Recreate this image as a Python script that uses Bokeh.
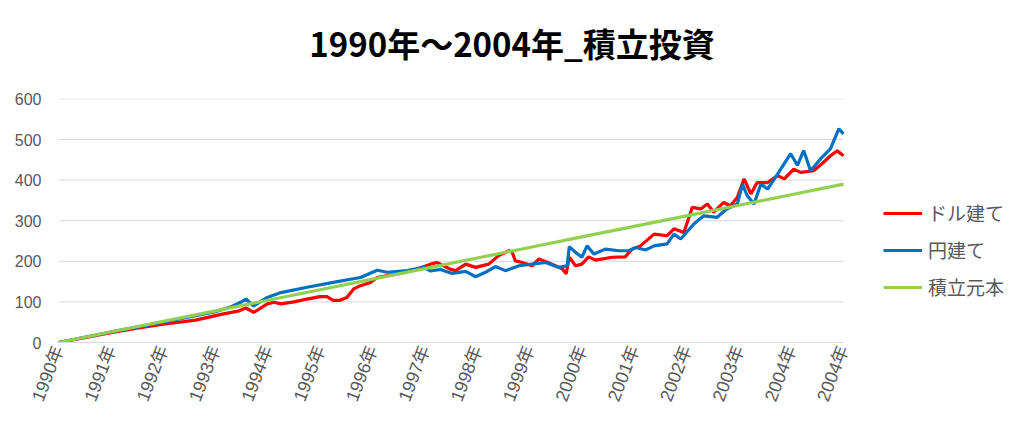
from bokeh.plotting import figure
from bokeh.models import (Range1d, FixedTicker, Legend, LegendItem, Div)
from bokeh.layouts import column
from bokeh.embed import file_html
from bokeh.resources import INLINE

# ---- data (decimal years) ----
years = list(range(1990, 2006))
year_labels = ["1990年", "1991年", "1992年", "1993年", "1994年", "1995年", "1996年",
               "1997年", "1998年", "1999年", "2000年", "2001年", "2002年", "2003年",
               "2004年", "2004年"]
y_ticks = [0, 100, 200, 300, 400, 500, 600]

t_dollar = [0, 0.5, 1.0, 1.5, 2.0, 2.62, 3.13, 3.45, 3.58, 3.73, 3.99, 4.12, 4.25, 4.5,
            4.75, 5.0, 5.13, 5.25, 5.38, 5.51, 5.64, 5.77, 5.96, 6.09, 6.34, 6.6, 6.85,
            7.11, 7.23, 7.36, 7.49, 7.59, 7.78, 7.97, 8.22, 8.41, 8.61, 8.67, 8.73, 8.86,
            9.05, 9.18, 9.43, 9.63, 9.7, 9.76, 9.88, 10.0, 10.13, 10.26, 10.58, 10.83,
            10.96, 11.12, 11.38, 11.63, 11.76, 11.95, 12.11, 12.27, 12.4, 12.52, 12.71,
            12.84, 12.97, 13.1, 13.23, 13.35, 13.55, 13.74, 13.87, 14.05, 14.18, 14.43,
            14.62, 14.75, 14.88, 15.0]
dollar = [0, 12, 24, 35, 45, 55, 70, 78, 85, 74, 95, 99, 95, 100,
          107, 113, 113, 104, 104, 111, 132, 140, 148, 160, 166, 172, 181,
          193, 197, 189, 180, 177, 193, 185, 193, 214, 226, 222, 201, 197,
          189, 206, 193, 181, 169, 210, 189, 193, 211, 203, 210, 211,
          230, 238, 267, 263, 280, 271, 333, 329, 341, 321, 345,
          337, 357, 403, 366, 394, 394, 411, 403, 427, 419, 423,
          444, 460, 472, 460]

t_yen = [0, 0.5, 1.0, 1.5, 2.0, 2.5, 3.0, 3.3, 3.48, 3.58, 3.73, 3.99, 4.25, 4.75,
         5.25, 5.77, 6.09, 6.28, 6.66, 6.98, 7.11, 7.3, 7.52, 7.78, 7.97, 8.16, 8.35,
         8.54, 8.8, 9.05, 9.31, 9.56, 9.72, 9.76, 9.88, 10.0, 10.1, 10.23, 10.45, 10.71,
         10.9, 11.03, 11.22, 11.38, 11.63, 11.76, 11.89, 12.14, 12.33, 12.58, 12.77,
         12.97, 13.07, 13.16, 13.29, 13.42, 13.55, 13.74, 13.99, 14.12, 14.24, 14.37,
         14.56, 14.75, 14.91, 15.0]
yen = [0, 13, 26, 38, 50, 63, 76, 88, 99, 107, 90, 111, 123, 136,
       148, 160, 178, 173, 177, 185, 176, 180, 170, 175, 162, 173, 187,
       177, 189, 193, 197, 185, 189, 236, 222, 210, 238, 218, 230, 226,
       226, 234, 228, 238, 243, 267, 255, 292, 312, 308, 329,
       341, 390, 362, 341, 390, 378, 415, 465, 436, 473, 423,
       452, 477, 526, 514]

t_principal = list(range(0, 16))
principal = [0, 26, 52, 78, 104, 130, 156, 182, 208, 234, 260, 286, 312, 338, 364, 390]

series_names = ["ドル建て", "円建て", "積立元本"]
series_colors = ["#ff0000", "#0070c0", "#92d050"]
title_text = "1990年～2004年_積立投資"

# ---- layout geometry (pixels) ----
W, H = 1008, 410
TITLE_H = 80
FRAME_L, FRAME_R_DATA, FRAME_R = 58, 843, 1005   # data area ends at 843; frame extends for legend
x0, x1 = years[0], years[-1]
x_end = x0 + (x1 - x0) * (FRAME_R - FRAME_L) / (FRAME_R_DATA - FRAME_L)

title = Div(text=('<div style="width:%dpx;box-sizing:border-box;padding-left:16px;'
                  'padding-top:27px;text-align:center;font-family:\'Noto Sans CJK JP\';'
                  'font-weight:bold;font-size:33px;line-height:33px;color:#000;">%s</div>')
                 % (W, title_text),
            width=W, height=TITLE_H, margin=0)

p = figure(width=W, height=H - TITLE_H, output_backend="svg", toolbar_location=None,
           x_range=Range1d(x0, x_end), y_range=Range1d(0, 601),
           min_border_left=FRAME_L, min_border_right=W - FRAME_R,
           min_border_top=98 - TITLE_H, min_border_bottom=68, margin=0)
p.outline_line_color = None
p.background_fill_color = "white"
p.border_fill_color = "white"

# horizontal gridlines over the data area only
for yt in y_ticks[1:]:
    p.segment(x0=[x0], y0=[yt], x1=[x1], y1=[yt], line_color="#d9d9d9", line_width=1)

r1 = p.line([x0 + t for t in t_dollar], dollar, line_color=series_colors[0], line_width=3.2)
r2 = p.line([x0 + t for t in t_yen], yen, line_color=series_colors[1], line_width=3.2)
r3 = p.line([x0 + t for t in t_principal], principal, line_color=series_colors[2], line_width=3.2)

# y axis
ya = p.yaxis[0]
ya.ticker = FixedTicker(ticks=y_ticks)
ya.axis_line_color = None
ya.major_tick_line_color = None
ya.minor_tick_line_color = None
ya.major_tick_out = 0
ya.major_tick_in = 0
ya.major_label_standoff = 17
ya.major_label_text_font = "Liberation Sans"
ya.major_label_text_font_size = "16px"
ya.major_label_text_color = "#595959"

# x axis
xa = p.xaxis[0]
xa.bounds = (x0, x1)
xa.ticker = FixedTicker(ticks=years)
xa.major_label_overrides = {y: lab for y, lab in zip(years, year_labels)}
xa.major_label_orientation = 1.2
xa.axis_line_color = "#d9d9d9"
xa.axis_line_width = 1
xa.major_tick_line_color = None
xa.minor_tick_line_color = None
xa.major_tick_out = 0
xa.major_tick_in = 0
xa.major_label_standoff = 4
xa.major_label_text_font = "Liberation Sans, 'Noto Sans CJK JP'"
xa.major_label_text_font_size = "18px"
xa.major_label_text_color = "#595959"

p.xgrid.grid_line_color = None
p.ygrid.grid_line_color = None

legend = Legend(items=[LegendItem(label=series_names[0], renderers=[r1]),
                       LegendItem(label=series_names[1], renderers=[r2]),
                       LegendItem(label=series_names[2], renderers=[r3])],
                location=(825, 42), orientation="vertical",
                glyph_width=39, glyph_height=20, label_standoff=6, spacing=10,
                padding=0, margin=0, border_line_color=None,
                background_fill_alpha=0,
                label_text_font="Noto Sans CJK JP", label_text_font_size="19px",
                label_text_color="#595959")
p.add_layout(legend, "center")

layout = column(title, p, spacing=0)
open("out.html", "w").write(file_html(layout, INLINE))
